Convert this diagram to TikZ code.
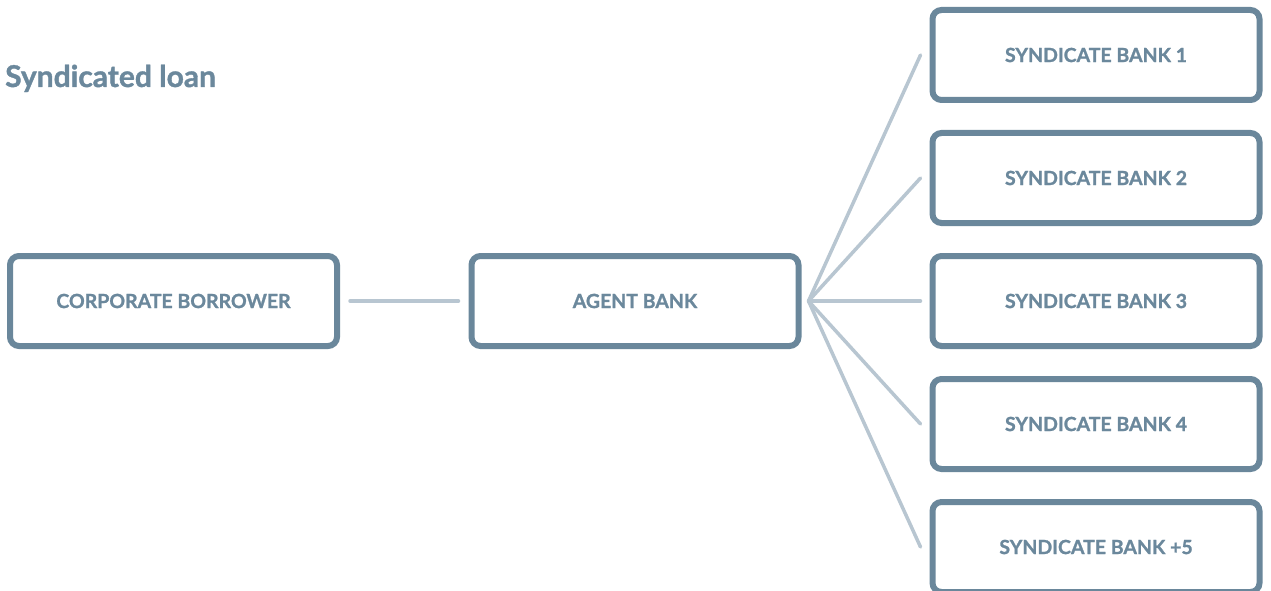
\documentclass[tikz,border=0pt]{standalone}
\usepackage{fontspec}
\setmainfont{Lato}
\newfontfamily\heavy{Lato}[BoldFeatures={FakeBold=1.2}]
\usetikzlibrary{calc}
\definecolor{boxc}{HTML}{6A879B}
\definecolor{txtc}{HTML}{6B889C}
\definecolor{linec}{HTML}{B8C6D1}
\begin{document}
\begin{tikzpicture}[x=1pt,y=-1pt,
  entity/.style={draw=boxc, line width=6pt, rounded corners=9pt, minimum width=327pt, minimum height=90pt, inner sep=0pt,
    text=txtc, font=\fontsize{19.5}{22}\selectfont\heavy\bfseries},
  link/.style={draw=linec, line width=3.5pt, line cap=round}]
\useasboundingbox (0,0) rectangle (1271,591);
\node[anchor=base west, text=txtc, font=\fontsize{30}{34}\selectfont\heavy\bfseries, inner sep=0pt] (title) at (5,87) {Syndicated loan};
\node[entity] (cb) at (173.5,301) {CORPORATE BORROWER};
\node[entity] (ab) at (635,301) {AGENT BANK};
\node[entity] (s1) at (1096,55) {SYNDICATE BANK 1};
\node[entity] (s2) at (1096,178) {SYNDICATE BANK 2};
\node[entity] (s3) at (1096,301) {SYNDICATE BANK 3};
\node[entity] (s4) at (1096,424) {SYNDICATE BANK 4};
\node[entity] (s5) at (1096,547) {SYNDICATE BANK +5};
\coordinate (hub) at ($(ab.east)+(7,0)$);
\draw[link] ($(cb.east)+(10,0)$) -- ($(ab.west)+(-10,0)$);
\foreach \n in {s1,s2,s3,s4,s5} {
  \draw[link] (hub) -- ($(\n.west)+(-9,0)$);
}
\end{tikzpicture}
\end{document}
